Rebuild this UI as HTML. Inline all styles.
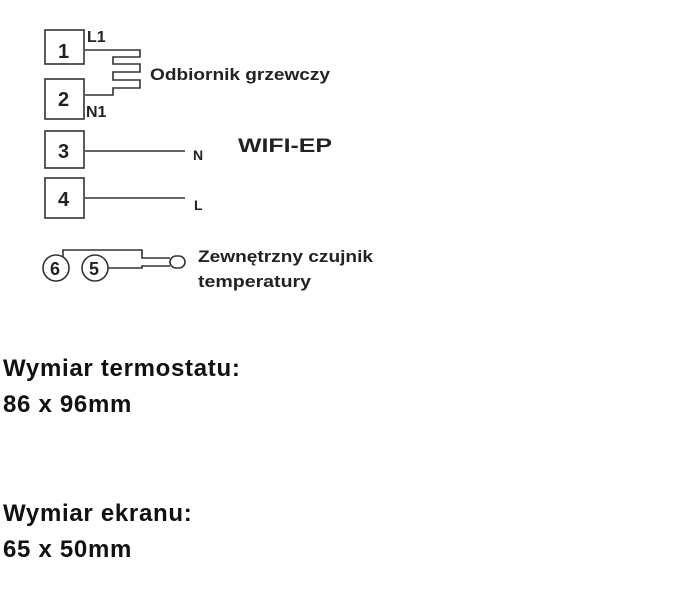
<!DOCTYPE html>
<html><head><style>
body{margin:0;width:677px;height:608px;background:#fff;overflow:hidden;position:relative;font-family:"Liberation Sans",sans-serif}
.b{position:absolute;left:3px;font-weight:bold;font-size:24px;letter-spacing:0.7px;color:#111;line-height:28px}
</style></head><body>
<svg width="677" height="608" style="position:absolute;left:0;top:0" font-family="Liberation Sans" fill="#222">
<g fill="none" stroke="#333" stroke-width="1.6">
<rect x="45" y="30" width="39" height="34"/>
<rect x="45" y="79" width="39" height="40"/>
<rect x="45" y="131" width="39" height="37"/>
<rect x="45" y="178" width="39" height="40"/>
<line x1="85" y1="151" x2="185" y2="151"/>
<line x1="85" y1="198" x2="185" y2="198"/>
<polyline points="85,50 140,50 140,57 113,57 113,64 140,64 140,72 113,72 113,80 140,80 140,88 113,88 113,95 85,95"/>
<circle cx="56" cy="268" r="13"/>
<circle cx="95" cy="268" r="13"/>
<polyline points="63,257 63,250 142,250 142,258 170,258"/>
<polyline points="108,268 142,268 142,266 170,266"/>
<rect x="170" y="256" width="15" height="12" rx="6"/>
</g>
<g font-weight="bold">
<text x="58" y="58" font-size="20">1</text>
<text x="58" y="106" font-size="20">2</text>
<text x="58" y="158" font-size="20">3</text>
<text x="58" y="206" font-size="20">4</text>
<text x="50" y="275" font-size="18">6</text>
<text x="89" y="275" font-size="18">5</text>
<text x="87" y="42" font-size="16">L1</text>
<text x="86" y="117" font-size="16">N1</text>
<text x="193" y="160" font-size="14">N</text>
<text x="194" y="210" font-size="14">L</text>
<text x="238" y="152" font-size="19" textLength="94" lengthAdjust="spacingAndGlyphs">WIFI-EP</text>
<text x="150" y="80" font-size="17" textLength="180" lengthAdjust="spacingAndGlyphs">Odbiornik grzewczy</text>
<text x="198" y="262" font-size="17" textLength="175" lengthAdjust="spacingAndGlyphs">Zewnętrzny czujnik</text>
<text x="198" y="287" font-size="17" textLength="113" lengthAdjust="spacingAndGlyphs">temperatury</text>
</g>
</svg>
<div class="b" style="top:355px">Wymiar termostatu:</div>
<div class="b" style="top:391px">86 x 96mm</div>
<div class="b" style="top:500px">Wymiar ekranu:</div>
<div class="b" style="top:536px">65 x 50mm</div>
</body></html>
